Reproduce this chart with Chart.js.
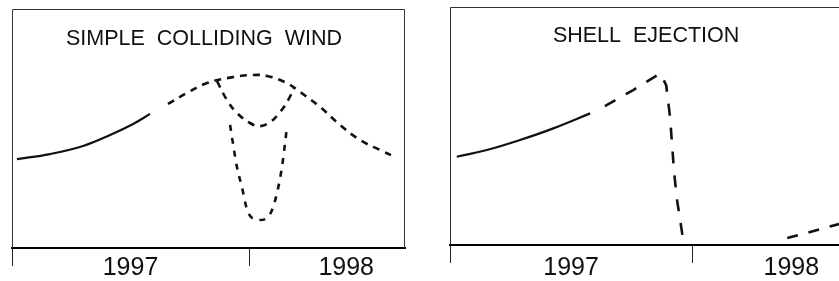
<!DOCTYPE html>
<html>
<head>
<meta charset="utf-8">
<script src="https://cdn.jsdelivr.net/npm/chart.js@4/dist/chart.umd.min.js"></script>
<style>
  html, body { margin: 0; padding: 0; background: #fff; width: 839px; height: 281px; overflow: hidden; }
  .panel { position: absolute; top: 0; height: 281px; }
  #pA { left: 0; width: 420px; }
  #pB { left: 420px; width: 419px; }
</style>
</head>
<body>
<div class="panel" id="pA"><canvas id="cA" width="420" height="281"></canvas></div>
<div class="panel" id="pB"><canvas id="cB" width="419" height="281"></canvas></div>
<script>
// ---- axis ticks / labels ----
const tickYears = [1997, 1998];
const tickLabels = ['1997', '1998'];
const labelYears = [1997.5, 1998.41];

// ---- panel titles ----
const panelTitles = ['SIMPLE  COLLIDING  WIND', 'SHELL  EJECTION'];

// ---- Panel A: simple colliding wind ----
const cwRiseYears = [1997.021, 1997.160, 1997.300, 1997.414, 1997.511, 1997.582];
const cwRiseFlux  = [37.2, 39.3, 42.7, 47.3, 51.9, 56.1];
const cwPredYears = [1997.658, 1997.738, 1997.823, 1997.932, 1998.017, 1998.076, 1998.160, 1998.215, 1998.300, 1998.384, 1998.468, 1998.553, 1998.616];
const cwPredFlux  = [60.3, 64.9, 69.0, 71.5, 72.4, 72.0, 69.0, 65.3, 59.0, 51.5, 45.2, 41.0, 38.1];
const cwShallowYears = [1997.865, 1997.907, 1997.949, 1998.004, 1998.046, 1998.089, 1998.131, 1998.165, 1998.190];
const cwShallowFlux  = [69.8, 61.9, 56.5, 52.3, 51.0, 52.7, 56.9, 61.9, 67.0];
const cwDeepYears = [1997.920, 1997.932, 1997.949, 1997.970, 1997.992, 1998.013, 1998.046, 1998.080, 1998.097, 1998.118, 1998.139, 1998.152, 1998.160];
const cwDeepFlux  = [51.5, 43.9, 33.9, 25.5, 15.9, 12.6, 11.7, 13.0, 15.9, 23.0, 33.9, 43.9, 50.6];

// ---- Panel B: shell ejection ----
const seRiseYears = [1997.028, 1997.152, 1997.289, 1997.427, 1997.579];
const seRiseFlux  = [37.1, 39.9, 44.1, 49.0, 55.3];
const seEjectYears = [1997.640, 1997.757, 1997.868, 1997.893, 1997.909, 1997.926, 1997.938, 1997.959, 1997.975];
const seEjectFlux  = [58.4, 65.1, 72.1, 67.2, 53.8, 30.3, 18.9, 5.0, -7.1];
const seReturnYears = [1998.393, 1998.488, 1998.607, 1998.660];
const seReturnFlux  = [2.9, 5.5, 8.8, 10.3];

const FONT = "'Liberation Sans', Arial, Helvetica, sans-serif";
const INK = '#111';

function zip(xs, ys) { return xs.map((x, i) => ({ x: x, y: ys[i] })); }

function line(xs, ys, dash, extra) {
  return Object.assign({
    data: zip(xs, ys),
    borderColor: INK,
    borderWidth: dash.length ? 2.6 : 2.2,
    borderDash: dash,
    borderCapStyle: 'butt',
    pointRadius: 0,
    fill: false,
    tension: 0.4
  }, extra || {});
}

const framePlugin = {
  id: 'panelFrame',
  afterDatasetsDraw(chart, args, o) {
    const ctx = chart.ctx, a = chart.chartArea;
    ctx.save();
    ctx.strokeStyle = '#333';
    ctx.lineWidth = 1;
    ctx.beginPath();
    ctx.moveTo(Math.round(a.left) + 0.5, a.bottom);
    ctx.lineTo(Math.round(a.left) + 0.5, Math.round(a.top) + 0.5);
    ctx.lineTo(o.right ? Math.round(a.right) - 0.5 : a.right, Math.round(a.top) + 0.5);
    if (o.right) ctx.lineTo(Math.round(a.right) - 0.5, a.bottom);
    ctx.stroke();
    // panel title inside the frame
    ctx.fillStyle = INK;
    ctx.font = o.titleSize + 'px ' + FONT;
    ctx.textAlign = 'center';
    ctx.textBaseline = 'middle';
    ctx.fillText(o.title, chart.scales.x.getPixelForValue(o.titleAt), a.top + o.titleDy);
    ctx.restore();
  }
};

function near(a, b) { return Math.abs(a - b) < 1e-6; }

function makePanel(id, cfg) {
  const allTicks = tickYears.concat(labelYears).sort((a, b) => a - b);
  return new Chart(document.getElementById(id), {
    type: 'line',
    data: { datasets: cfg.datasets },
    options: {
      responsive: false,
      animation: false,
      events: [],
      layout: { padding: cfg.padding },
      plugins: {
        legend: { display: false },
        tooltip: { enabled: false },
        panelFrame: { title: cfg.title, titleAt: 1997.81, titleDy: cfg.titleDy, titleSize: 21.5, right: cfg.frameRight }
      },
      scales: {
        x: {
          type: 'linear',
          min: cfg.xMin,
          max: cfg.xMax,
          afterBuildTicks: s => { s.ticks = allTicks.map(v => ({ value: v })); },
          afterFit: s => { s.height = cfg.axisHeight; },
          border: { display: true, color: '#000', width: 2 },
          grid: {
            drawOnChartArea: false,
            drawTicks: true,
            tickLength: 18,
            tickWidth: 1,
            tickColor: c => (c.tick && tickYears.some(t => near(t, c.tick.value))) ? '#222' : 'rgba(0,0,0,0)'
          },
          ticks: {
            autoSkip: false,
            maxRotation: 0,
            minRotation: 0,
            padding: cfg.labelPad,
            color: INK,
            font: { family: FONT, size: 25 },
            callback: v => {
              const i = labelYears.findIndex(l => near(l, v));
              return i >= 0 ? tickLabels[i] : '';
            }
          }
        },
        y: { display: false, min: 0, max: 100 }
      }
    },
    plugins: [framePlugin]
  });
}

makePanel('cA', {
  title: panelTitles[0],
  titleDy: 30,
  frameRight: true,
  padding: { left: 12, top: 9, right: 15, bottom: 0 },
  axisHeight: 33,
  labelPad: -13,
  xMin: 1997.0,
  xMax: 1998.658,
  datasets: [
    line(cwRiseYears, cwRiseFlux, []),
    line(cwPredYears, cwPredFlux, [7, 6]),
    line(cwShallowYears, cwShallowFlux, [7, 6]),
    line(cwDeepYears, cwDeepFlux, [6, 7], { cubicInterpolationMode: 'monotone' })
  ]
});

makePanel('cB', {
  title: panelTitles[1],
  titleDy: 29,
  frameRight: false,
  padding: { left: 30, top: 7, right: 0, bottom: 0 },
  axisHeight: 36,
  labelPad: -10,
  xMin: 1997.0,
  xMax: 1998.607,
  datasets: [
    line(seRiseYears, seRiseFlux, []),
    line(seEjectYears, seEjectFlux, [12, 12], { tension: 0 }),
    line(seReturnYears, seReturnFlux, [11, 11], { tension: 0 })
  ]
});
</script>
</body>
</html>
